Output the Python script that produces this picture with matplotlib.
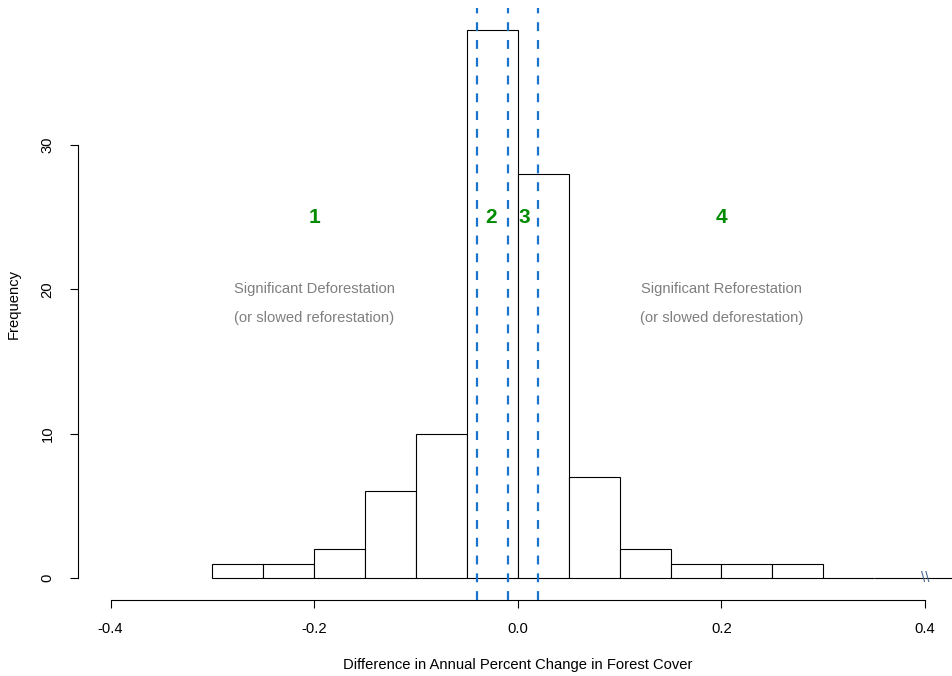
import numpy as np
import matplotlib.pyplot as plt

plt.rcParams['font.family'] = ['Liberation Sans', 'DejaVu Sans']

# histogram bins (width 0.05) and counts; empty bins past 0.3 run along the baseline
bin_left = [-0.30, -0.25, -0.20, -0.15, -0.10, -0.05, 0.00, 0.05, 0.10, 0.15, 0.20, 0.25, 0.30, 0.35, 0.40]
counts = [1, 1, 2, 6, 10, 38, 28, 7, 2, 1, 1, 1, 0, 0, 0]
bin_width = 0.05

# cut-offs between the four classes
cutoffs = [-0.04, -0.01, 0.02]

class_labels = ['1', '2', '3', '4']
class_x = [-0.2, -0.026, 0.006, 0.2]
class_y = 25

notes = [
    (-0.2, 'Significant Deforestation', '(or slowed reforestation)'),
    (0.2, 'Significant Reforestation', '(or slowed deforestation)'),
]

xticks = [-0.4, -0.2, 0.0, 0.2, 0.4]
yticks = [0, 10, 20, 30]

fs = 10.6

fig = plt.figure(figsize=(9.52, 6.76), dpi=100)
ax = fig.add_axes([78 / 952, 76 / 676, (957.7 - 78) / 952, (600 - 7.7) / 676])

ax.bar(bin_left, counts, width=bin_width, align='edge', color='white',
       edgecolor='black', linewidth=0.8, zorder=2)

for c in cutoffs:
    ax.axvline(c, color='#1874CD', linestyle=(0, (4, 4)), linewidth=1.6, zorder=3)

for lab, x in zip(class_labels, class_x):
    ax.text(x, class_y, lab, color='#008B00', fontsize=15, fontweight='bold',
            ha='center', va='center', zorder=4)

for x, line1, line2 in notes:
    ax.text(x, 20, line1, color='#7f7f7f', fontsize=fs, ha='center', va='center')
    ax.text(x, 18, line2, color='#7f7f7f', fontsize=fs, ha='center', va='center')

# axis break mark on the baseline
ax.text(0.4, 0, r'\\', color='#4f6f8f', fontsize=11, ha='center', va='center', zorder=4)

ax.set_xlim(-0.432, 0.432)
ax.set_ylim(-1.52, 39.52)

for s in ['top', 'right']:
    ax.spines[s].set_visible(False)
ax.spines['left'].set_bounds(0, 30)
ax.spines['bottom'].set_bounds(-0.4, 0.4)
for s in ['left', 'bottom']:
    ax.spines[s].set_linewidth(0.8)

ax.set_xticks(xticks)
ax.set_xticklabels(['-0.4', '-0.2', '0.0', '0.2', '0.4'])
ax.set_yticks(yticks)
ax.set_yticklabels([str(v) for v in yticks], rotation=90, va='center')
ax.tick_params(axis='both', length=6, width=0.8, labelsize=fs, colors='black')
ax.tick_params(axis='x', pad=10)
ax.tick_params(axis='y', pad=11)

ax.set_xlabel('Difference in Annual Percent Change in Forest Cover', fontsize=fs, labelpad=16)
ax.set_ylabel('Frequency', fontsize=fs, labelpad=14)

fig.savefig('out.png', dpi=100)
